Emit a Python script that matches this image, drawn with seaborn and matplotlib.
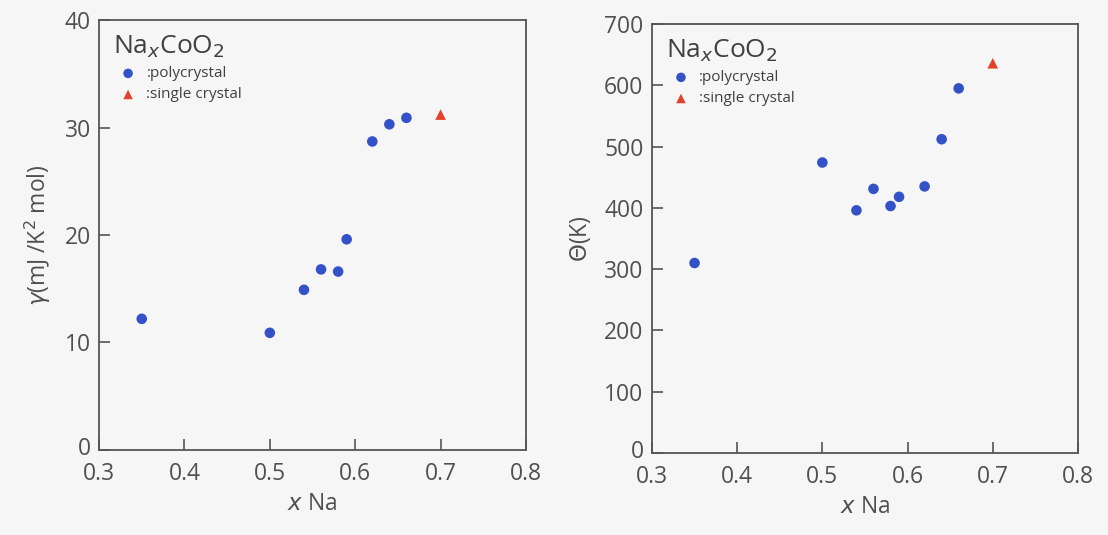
import matplotlib
matplotlib.use("Agg")
import matplotlib.pyplot as plt
import matplotlib.transforms as mtransforms
import seaborn as sns
import pandas as pd

# data
x_poly = [0.35, 0.50, 0.54, 0.56, 0.58, 0.59, 0.62, 0.64, 0.66]
gamma_poly = [12.2, 10.9, 14.9, 16.8, 16.6, 19.6, 28.7, 30.3, 30.9]
theta_poly = [310, 474, 396, 431, 403, 418, 435, 512, 595]
x_single = [0.70]
gamma_single = [31.2]
theta_single = [636]

xticks = [0.3, 0.4, 0.5, 0.6, 0.7, 0.8]
gamma_ticks = [0, 10, 20, 30, 40]
theta_ticks = [0, 100, 200, 300, 400, 500, 600, 700]

sns.set_theme(style="white")
plt.rcParams['font.family'] = ['Open Sans', 'DejaVu Sans']
plt.rcParams['mathtext.fontset'] = 'dejavusans'

bg = '#f6f6f6'
txt = '#505050'
blue = '#3452c8'
red = '#e2412c'

fig = plt.figure(figsize=(11.08, 5.35), dpi=100, facecolor=bg)
ax1 = fig.add_axes([0.0894, 0.1589, 0.3853, 0.8037])
ax2 = fig.add_axes([0.5884, 0.1533, 0.3845, 0.8018])

df_poly = pd.DataFrame({'x': x_poly, 'g': gamma_poly, 't': theta_poly})
df_single = pd.DataFrame({'x': x_single, 'g': gamma_single, 't': theta_single})

for ax, col, ticks, ylim, ylabel in [
    (ax1, 'g', gamma_ticks, (0, 40), r'$\gamma$(mJ /K$^2$ mol)'),
    (ax2, 't', theta_ticks, (0, 700), r'$\Theta$(K)'),
]:
    ax.set_facecolor(bg)
    sns.scatterplot(data=df_poly, x='x', y=col, ax=ax, color=blue, marker='o',
                    s=58, edgecolor='none', label=':polycrystal')
    sns.scatterplot(data=df_single, x='x', y=col, ax=ax, color=red, marker='^',
                    s=58, edgecolor='none', label=':single crystal')
    ax.set_xlim(0.3, 0.8)
    ax.set_ylim(*ylim)
    ax.set_xticks(xticks)
    ax.set_xticklabels([f'{v:.1f}' for v in xticks])
    ax.set_yticks(ticks)
    ax.tick_params(direction='in', length=8, width=1.2, colors='#555555',
                   labelsize=16.5, labelcolor=txt, bottom=True, left=True)
    ax.tick_params(axis='x', pad=9)
    ax.tick_params(axis='y', pad=6)
    # lift the "0" y label a little so it sits above the x tick labels
    fig.canvas.draw()
    lab0 = ax.get_yticklabels()[0]
    lab0.set_transform(lab0.get_transform() +
                       mtransforms.ScaledTranslation(0, 4 / 100, fig.dpi_scale_trans))
    for s in ax.spines.values():
        s.set_color('#555555')
        s.set_linewidth(1.3)
    ax.set_xlabel(r'$\mathit{x}$ Na', fontsize=16.5, color=txt, labelpad=4)
    ax.set_ylabel(ylabel, fontsize=16.5, color=txt, labelpad=8)
    leg = ax.legend(loc='upper left', frameon=False, title=r'Na$_x$CoO$_2$',
                    fontsize=11, title_fontsize=19, handletextpad=0.2,
                    borderaxespad=0.5, labelspacing=0.4, markerscale=0.9)
    leg._legend_box.align = 'left'
    leg.get_title().set_color('#404040')
    for t in leg.get_texts():
        t.set_color('#404040')

fig.savefig('out.png', dpi=100, facecolor=bg)
